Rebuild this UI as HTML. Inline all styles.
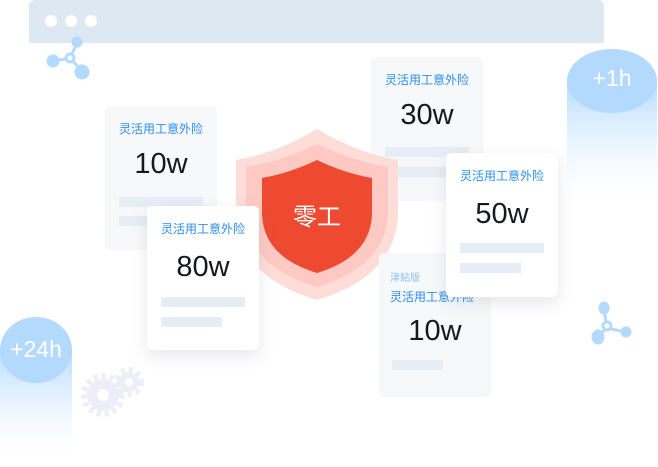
<!DOCTYPE html>
<html><head><meta charset="utf-8"><style>
body{margin:0;width:658px;height:467px;background:#fff;position:relative;overflow:hidden;font-family:"Liberation Sans","Noto Sans CJK SC",sans-serif}
.a{position:absolute}
.card{position:absolute;width:112px;height:144px;border-radius:5px;background:#f6f8fa}
.card.w{background:#fff;box-shadow:0 6px 16px rgba(120,130,150,.18)}
.t{position:absolute;left:0;width:100%;text-align:center;font-size:12px;color:#2a8ef0}
.n{position:absolute;left:0;width:100%;text-align:center;font-size:29px;color:#16191b}
.b{position:absolute;height:10px;background:#e6edf4}
</style></head><body>
<div class="a" style="left:29px;top:0;width:575px;height:43px;background:#dde8f2;border-radius:6px 6px 0 0"></div>
<div class="a" style="left:45px;top:15px;width:12px;height:12px;border-radius:50%;background:#fff"></div>
<div class="a" style="left:65px;top:15px;width:12px;height:12px;border-radius:50%;background:#fff"></div>
<div class="a" style="left:85px;top:15px;width:12px;height:12px;border-radius:50%;background:#fff"></div>
<svg class="a" style="left:0;top:0" width="658" height="467">
<defs>
<linearGradient id="g" x1="0" y1="0" x2="0" y2="1"><stop offset="0" stop-color="#b3dafd"/><stop offset="1" stop-color="#fff" stop-opacity="0"/></linearGradient>
</defs>
<g fill="#b3dafd" stroke="#b3dafd">
<line x1="70" y1="58" x2="77" y2="43" stroke-width="3"/><line x1="70" y1="58" x2="54" y2="61" stroke-width="3"/><line x1="70" y1="58" x2="82" y2="71" stroke-width="3"/>
<circle cx="77" cy="42" r="5"/><circle cx="53" cy="61" r="6"/><circle cx="82" cy="72" r="7"/><circle cx="70" cy="58" r="4" fill="#fff" stroke-width="3"/>
<line x1="607" y1="328" x2="604" y2="309" stroke-width="3"/><line x1="607" y1="328" x2="625" y2="332" stroke-width="3"/><line x1="607" y1="328" x2="598" y2="336" stroke-width="3"/>
<ellipse cx="604" cy="308" rx="5" ry="6"/><ellipse cx="598" cy="337" rx="6" ry="7"/><circle cx="626" cy="332" r="5"/><circle cx="607" cy="326" r="4" fill="#fff" stroke-width="3"/>
</g>
<rect x="567" y="81" width="90" height="130" fill="url(#g)"/>
<ellipse cx="612" cy="81" rx="45" ry="32" fill="#b3dafd"/>
<rect x="0" y="350" width="72" height="117" fill="url(#g)"/>
<ellipse cx="36" cy="350" rx="36" ry="33" fill="#b3dafd"/>
<g fill="#eeeef9">
<circle cx="103" cy="395" r="16"/><circle cx="129" cy="382" r="10"/>
<g stroke="#eeeef9" stroke-width="6" stroke-dasharray="4 4"><circle cx="103" cy="395" r="19" fill="none"/><circle cx="129" cy="382" r="12" fill="none"/></g>
<circle cx="103" cy="395" r="6" fill="#fff"/><circle cx="129" cy="382" r="4" fill="#fff"/>
</g>
</svg>
<div class="card" style="left:105px;top:106px"><div class="t" style="top:14px">灵活用工意外险</div><div class="n" style="top:42px">10w</div><div class="b" style="left:14px;top:91px;width:84px"></div><div class="b" style="left:14px;top:110px;width:84px"></div></div>
<div class="card" style="left:371px;top:57px"><div class="t" style="top:14px">灵活用工意外险</div><div class="n" style="top:42px">30w</div><div class="b" style="left:14px;top:90px;width:84px"></div><div class="b" style="left:14px;top:110px;width:84px"></div></div>
<svg class="a" style="left:0;top:0" width="658" height="467">
<g transform="translate(317 215)">
<path d="M-81,-55 Q-40,-62 0,-86 Q40,-62 81,-55 L81,0 Q78,62 0,85 Q-78,62 -81,0 Z" fill="#fedcd8"/>
<path d="M-71,-48 Q-35,-54 0,-71 Q35,-54 71,-48 L71,0 Q68,52 0,72 Q-68,52 -71,0 Z" fill="#fdc9c2"/>
<path d="M-55,-37 Q-27,-42 0,-55 Q27,-42 55,-37 L55,0 Q53,42 0,58 Q-53,42 -55,0 Z" fill="#ee4a32"/>
</g>
<text x="317" y="225" text-anchor="middle" font-size="24" fill="#fff" font-family="Liberation Sans, Noto Sans CJK SC, sans-serif">零工</text>
</svg>
<div class="card" style="left:379px;top:253px"><div class="a" style="left:11px;top:16px;font-size:10px;color:#8cc4f6">津贴版</div><div class="t" style="top:35px;text-align:left;left:11px">灵活用工意外险</div><div class="n" style="top:62px">10w</div><div class="b" style="left:13px;top:107px;width:51px"></div></div>
<div class="card w" style="left:147px;top:206px"><div class="t" style="top:14px">灵活用工意外险</div><div class="n" style="top:45px">80w</div><div class="b" style="left:14px;top:91px;width:84px"></div><div class="b" style="left:14px;top:111px;width:61px"></div></div>
<div class="card w" style="left:446px;top:153px"><div class="t" style="top:14px">灵活用工意外险</div><div class="n" style="top:45px">50w</div><div class="b" style="left:14px;top:90px;width:84px"></div><div class="b" style="left:14px;top:110px;width:61px"></div></div>
<div class="a" style="left:567px;top:65px;width:90px;text-align:center;font-size:23px;color:#fff">+1h</div>
<div class="a" style="left:0;top:336px;width:72px;text-align:center;font-size:23px;color:#fff">+24h</div>
</body></html>
